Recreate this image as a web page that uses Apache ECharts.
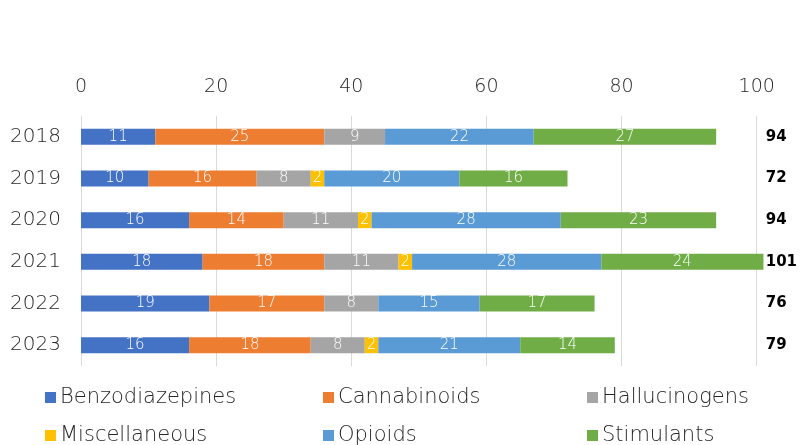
<!DOCTYPE html>
<html>
<head>
<meta charset="utf-8">
<script src="https://cdn.jsdelivr.net/npm/echarts@6/dist/echarts.min.js"></script>
<style>html,body{margin:0;padding:0;background:#fff}#c{width:800px;height:445px}</style>
</head>
<body>
<div id="c"></div>
<script>
const years = ['2018','2019','2020','2021','2022','2023'];
const benzodiazepines = [11,10,16,18,19,16];
const cannabinoids = [25,16,14,18,17,18];
const hallucinogens = [9,8,11,11,8,8];
const miscellaneous = [0,2,2,2,0,2];
const opioids = [22,20,28,28,15,21];
const stimulants = [27,16,23,24,17,14];
const totals = ['94','72','94','101','76','79'];
const xTicks = [0,20,40,60,80,100];

const names = ['Benzodiazepines','Cannabinoids','Hallucinogens','Miscellaneous','Opioids','Stimulants'];
const colors = ['#4472C4','#ED7D31','#A5A5A5','#FFC000','#5B9BD5','#70AD47'];
const values = [benzodiazepines,cannabinoids,hallucinogens,miscellaneous,opioids,stimulants];
const FONT = '"DejaVu Sans", sans-serif';
const TXT = '#262626';

const series = names.map((n,i)=>({
  name:n, type:'bar', stack:'total', barWidth:16, clip:false,
  data: values[i],
  itemStyle:{color:colors[i]},
  label:{show:true, position:'inside', color:'#fff', fontSize:15, fontWeight:200, fontFamily:FONT,
    formatter:p=> p.value===0 ? '' : String(p.value)},
  emphasis:{disabled:true}
}));

const legendPos = [[40,382],[318,382],[582,382],[40,420],[318,420],[582,420]];
const legends = names.map((n,i)=>({
  data:[n], left:legendPos[i][0], top:legendPos[i][1], icon:'rect', itemWidth:11, itemHeight:11, itemGap:4,
  textStyle:{fontSize:21, fontWeight:200, color:TXT, fontFamily:FONT, padding:[0,0,0,-1]}, selectedMode:false
}));

const chart = echarts.init(document.getElementById('c'));
chart.setOption({
  animation:false,
  grid:{left:81, right:42, top:116, bottom:79},
  legend: legends,
  xAxis:{type:'value', position:'top', min:0, max:100, interval:20,
    axisLine:{show:false}, axisTick:{show:false},
    splitLine:{show:true, lineStyle:{color:'#d9d9d9', width:1}},
    axisLabel:{fontSize:19, fontWeight:200, color:TXT, margin:19, fontFamily:FONT,
      formatter:v=> xTicks.includes(v) ? String(v) : ''}
  },
  yAxis:[
    {type:'category', data:years, inverse:true,
      axisLine:{show:false}, axisTick:{show:false},
      axisLabel:{fontSize:20, fontWeight:200, color:TXT, margin:20, fontFamily:FONT}},
    {type:'category', data:totals, inverse:true, position:'right',
      axisLine:{show:false}, axisTick:{show:false},
      axisLabel:{fontSize:15, color:'#000', fontWeight:'bold', margin:9, align:'left', fontFamily:FONT}}
  ],
  series: series
});
</script>
</body>
</html>
